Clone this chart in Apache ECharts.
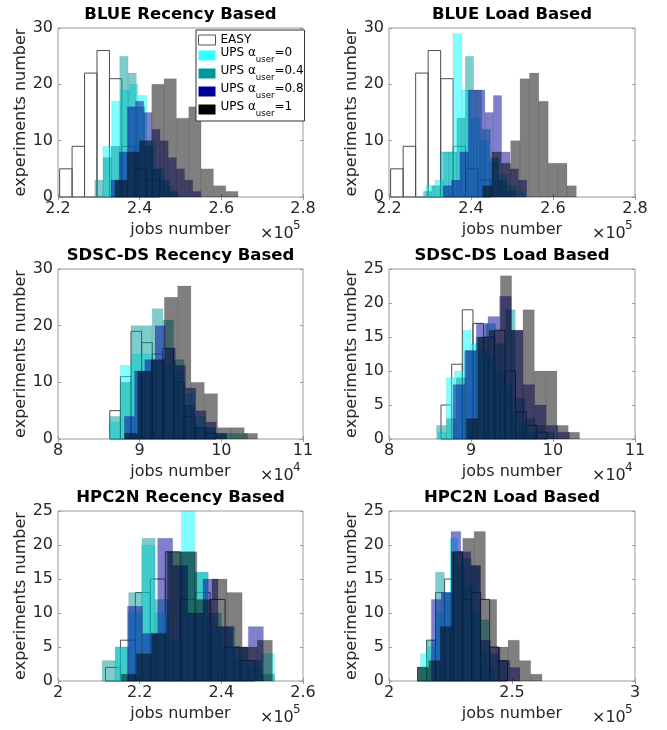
<!DOCTYPE html>
<html>
<head>
<meta charset="utf-8">
<script src="https://cdn.jsdelivr.net/npm/echarts@6/dist/echarts.min.js"></script>
<style>
  html, body { margin: 0; padding: 0; background: #fff; }
  #chart { width: 667px; height: 730px; }
</style>
</head>
<body>
<div id="chart"></div>
<script>
  // series (drawn in this order, EASY at the back)
  const seriesNames = ['EASY', 'UPS α_user=0', 'UPS α_user=0.4', 'UPS α_user=0.8', 'UPS α_user=1'];
  const panelTitles = ['BLUE Recency Based', 'BLUE Load Based', 'SDSC-DS Recency Based',
                       'SDSC-DS Load Based', 'HPC2N Recency Based', 'HPC2N Load Based'];

  // axes, x in units of 10^xExp
  const xMin = [2.2, 2.2, 8, 8, 2, 2];
  const xMax = [2.8, 2.8, 11, 11, 2.6, 3];
  const xStep = [0.2, 0.2, 1, 1, 0.2, 0.5];
  const xExp = [5, 5, 4, 4, 5, 5];
  const yMax = [30, 30, 30, 25, 25, 25];
  const yStep = [10, 10, 10, 5, 5, 5];

  // histograms: first bin edge and bin width per series, then counts per bin
  const blueRecStart = [2.204, 2.310, 2.290, 2.330, 2.339];
  const blueRecWidth = [0.0305, 0.0215, 0.0204, 0.0200, 0.0302];
  const blueRecCounts = [
    [5, 9, 22, 26, 21, 9, 5, 3],
    [9, 17, 19, 20, 18, 10, 5, 2],
    [3, 7, 9, 25, 22, 16, 9, 5, 3, 1],
    [3, 8, 16, 17, 15, 12, 10, 7, 5, 3, 1],
    [3, 8, 10, 20, 21, 14, 16, 5, 2, 1]
  ];

  const blueLoadStart = [2.204, 2.290, 2.284, 2.332, 2.428];
  const blueLoadWidth = [0.0305, 0.0220, 0.0204, 0.0204, 0.0229];
  const blueLoadCounts = [
    [5, 9, 22, 26, 21, 9, 5, 3],
    [2, 3, 8, 29, 19, 14, 10, 6, 4, 2, 1],
    [1, 2, 8, 8, 14, 25, 19, 12, 7, 3, 1],
    [2, 3, 8, 19, 19, 15, 18, 8, 5, 3],
    [2, 8, 6, 10, 21, 22, 17, 6, 6, 2]
  ];

  const sdscRecStart = [8.634, 8.634, 8.634, 8.813, 8.813];
  const sdscRecWidth = [0.13, 0.13, 0.13, 0.125, 0.163];
  const sdscRecCounts = [
    [5, 11, 19, 17, 15, 16, 10, 4, 2, 1],
    [3, 13, 15, 15, 14, 13, 12, 8, 4, 2, 1],
    [4, 10, 20, 20, 23, 21, 14, 6, 2, 2, 1, 1, 1],
    [4, 12, 14, 20, 16, 13, 9, 5, 3, 1],
    [1, 12, 14, 25, 27, 10, 8, 2, 2, 1]
  ];

  const sdscLoadStart = [8.634, 8.600, 8.580, 8.781, 8.944];
  const sdscLoadWidth = [0.13, 0.10, 0.12, 0.142, 0.138];
  const sdscLoadCounts = [
    [5, 11, 19, 17, 15, 16, 10, 4, 2, 1],
    [1, 9, 10, 16, 14, 13, 12, 10, 8, 4, 2, 1],
    [2, 3, 9, 13, 15, 17, 14, 19, 6, 3, 2, 1],
    [8, 13, 17, 18, 21, 16, 8, 5, 2, 1],
    [3, 15, 16, 24, 16, 19, 10, 10, 2, 1]
  ];

  const hpcRecStart = [2.1163, 2.140, 2.108, 2.170, 2.155];
  const hpcRecWidth = [0.0366, 0.0325, 0.0325, 0.037, 0.037];
  const hpcRecCounts = [
    [2, 6, 13, 15, 19, 12, 13, 12, 5, 3],
    [5, 10, 20, 10, 6, 25, 16, 8, 5, 3, 2, 4],
    [3, 5, 13, 21, 12, 19, 19, 16, 10, 8, 5, 3, 1],
    [11, 7, 21, 17, 10, 15, 8, 5, 8],
    [1, 4, 7, 19, 19, 12, 15, 13, 5, 6]
  ];

  const hpcLoadStart = [2.1163, 2.128, 2.1154, 2.172, 2.116];
  const hpcLoadWidth = [0.0366, 0.030, 0.0366, 0.040, 0.046];
  const hpcLoadCounts = [
    [2, 6, 13, 15, 19, 12, 13, 12, 5, 3],
    [4, 5, 10, 13, 21, 17, 14, 10, 4, 2],
    [2, 6, 16, 13, 19, 18, 17, 9, 4, 3],
    [12, 13, 22, 19, 17, 6, 5, 3, 2],
    [2, 3, 8, 19, 21, 22, 12, 5, 6, 3, 1]
  ];

  const allStart = [blueRecStart, blueLoadStart, sdscRecStart, sdscLoadStart, hpcRecStart, hpcLoadStart];
  const allWidth = [blueRecWidth, blueLoadWidth, sdscRecWidth, sdscLoadWidth, hpcRecWidth, hpcLoadWidth];
  const allCounts = [blueRecCounts, blueLoadCounts, sdscRecCounts, sdscLoadCounts, hpcRecCounts, hpcLoadCounts];

  // look
  const FONT = 'DejaVu Sans';
  const TXT = '#262626';
  const FRAME = '#999999';
  const fills = ['rgba(255,255,255,0)', 'rgba(0,255,255,0.5)', 'rgba(0,153,153,0.5)', 'rgba(0,0,153,0.5)', 'rgba(0,0,0,0.5)'];
  const strokes = ['#4d4d4d', 'rgba(0,0,0,0.12)', 'rgba(0,0,0,0.12)', 'rgba(0,0,0,0.15)', 'rgba(0,0,0,0.15)'];
  const strokeW = [1, 0.6, 0.6, 0.6, 0.6];
  const legendColors = ['#ffffff', '#33ffff', '#009999', '#000099', '#000000'];

  const gridLeft = [58, 389];
  const gridWidth = [245, 246];
  const gridTop = [28, 269, 511];
  const gridHeight = [169, 170, 170];

  function makeRender(k) {
    return function (params, api) {
      const c = api.value(2);
      if (!c) return;
      const p0 = api.coord([api.value(0), c]);
      const p1 = api.coord([api.value(1), 0]);
      const cs = params.coordSys;
      const shape = echarts.graphic.clipRectByRect(
        { x: p0[0], y: p0[1], width: p1[0] - p0[0], height: p1[1] - p0[1] },
        { x: cs.x, y: cs.y, width: cs.width, height: cs.height }
      );
      if (!shape) return;
      return {
        type: 'rect',
        shape: shape,
        style: { fill: fills[k], stroke: strokes[k], lineWidth: strokeW[k] }
      };
    };
  }

  const grid = [], xAxis = [], yAxis = [], title = [], series = [], graphic = [];
  const tick = { show: true, inside: true, length: 3, lineStyle: { color: FRAME, width: 1 } };
  const label = { fontFamily: FONT, fontSize: 16, color: TXT };

  panelTitles.forEach(function (name, i) {
    const col = i % 2, row = Math.floor(i / 2);
    const left = gridLeft[col], top = gridTop[row], w = gridWidth[col], h = gridHeight[row];
    grid.push({ left: left, top: top, width: w, height: h, show: true,
                borderColor: FRAME, borderWidth: 1, backgroundColor: 'transparent' });

    const xb = { gridIndex: i, type: 'value', min: xMin[i], max: xMax[i], interval: xStep[i],
                 splitLine: { show: false }, axisLine: { show: false } };
    xAxis.push(Object.assign({}, xb, {
      position: 'bottom', axisTick: tick,
      axisLabel: Object.assign({ margin: 4, showMinLabel: true, showMaxLabel: true, hideOverlap: false }, label),
      name: 'jobs number', nameLocation: 'middle', nameGap: 25, nameTextStyle: label
    }));
    xAxis.push(Object.assign({}, xb, { position: 'top', axisTick: tick, axisLabel: { show: false } }));

    const yb = { gridIndex: i, type: 'value', min: 0, max: yMax[i], interval: yStep[i],
                 splitLine: { show: false }, axisLine: { show: false } };
    yAxis.push(Object.assign({}, yb, {
      position: 'left', axisTick: tick,
      axisLabel: Object.assign({ margin: 5, showMinLabel: true, showMaxLabel: true, hideOverlap: false }, label),
      name: 'experiments number', nameLocation: 'middle', nameGap: 25, nameRotate: 90, nameTextStyle: label
    }));
    yAxis.push(Object.assign({}, yb, { position: 'right', axisTick: tick, axisLabel: { show: false } }));

    title.push({
      text: name, left: left + w / 2, top: top - 22, textAlign: 'center', padding: 0,
      textStyle: { fontFamily: FONT, fontSize: 16.5, fontWeight: 'bold', color: '#000' }
    });

    // x10^n multiplier under the right end of the x axis
    graphic.push({ type: 'text', left: left + w - 43, top: top + h + 29,
                   style: { text: '×10', font: '16px ' + FONT, fill: TXT } });
    graphic.push({ type: 'text', left: left + w - 10, top: top + h + 23,
                   style: { text: String(xExp[i]), font: '12px ' + FONT, fill: TXT } });

    seriesNames.forEach(function (sn, k) {
      const s0 = allStart[i][k], bw = allWidth[i][k];
      const data = allCounts[i][k].map(function (c, j) {
        return [s0 + j * bw, s0 + (j + 1) * bw, c];
      });
      series.push({
        name: sn, type: 'custom', xAxisIndex: 2 * i, yAxisIndex: 2 * i,
        renderItem: makeRender(k), encode: { x: [0, 1], y: 2 },
        itemStyle: { color: legendColors[k] },
        data: data, silent: true, animation: false
      });
    });
  });

  const legend = {
    orient: 'vertical', left: 196, top: 30,
    padding: [4, 1, 3, 2], itemGap: 1, itemWidth: 17, itemHeight: 10,
    backgroundColor: '#fff', borderColor: '#333', borderWidth: 1,
    selectedMode: false, icon: 'rect',
    data: seriesNames.map(function (n, k) {
      return { name: n, icon: 'rect',
               itemStyle: k === 0 ? { color: '#fff', borderColor: '#555', borderWidth: 1 }
                                   : { color: legendColors[k], borderWidth: 0 } };
    }),
    formatter: function (n) {
      if (n === 'EASY') return '{a|EASY}';
      return '{a|UPS α}{s|user}{a|=' + n.split('=')[1] + '}';
    },
    textStyle: {
      fontFamily: FONT, fontSize: 12, color: '#000',
      rich: {
        a: { fontFamily: FONT, fontSize: 12, color: '#000', verticalAlign: 'top' },
        s: { fontFamily: FONT, fontSize: 8.5, color: '#000', padding: [8, 0, 0, 0] }
      }
    }
  };

  const chart = echarts.init(document.getElementById('chart'), null, { renderer: 'canvas' });
  chart.setOption({
    animation: false,
    backgroundColor: '#fff',
    title: title, grid: grid, xAxis: xAxis, yAxis: yAxis,
    legend: legend, series: series, graphic: graphic
  });
</script>
</body>
</html>
